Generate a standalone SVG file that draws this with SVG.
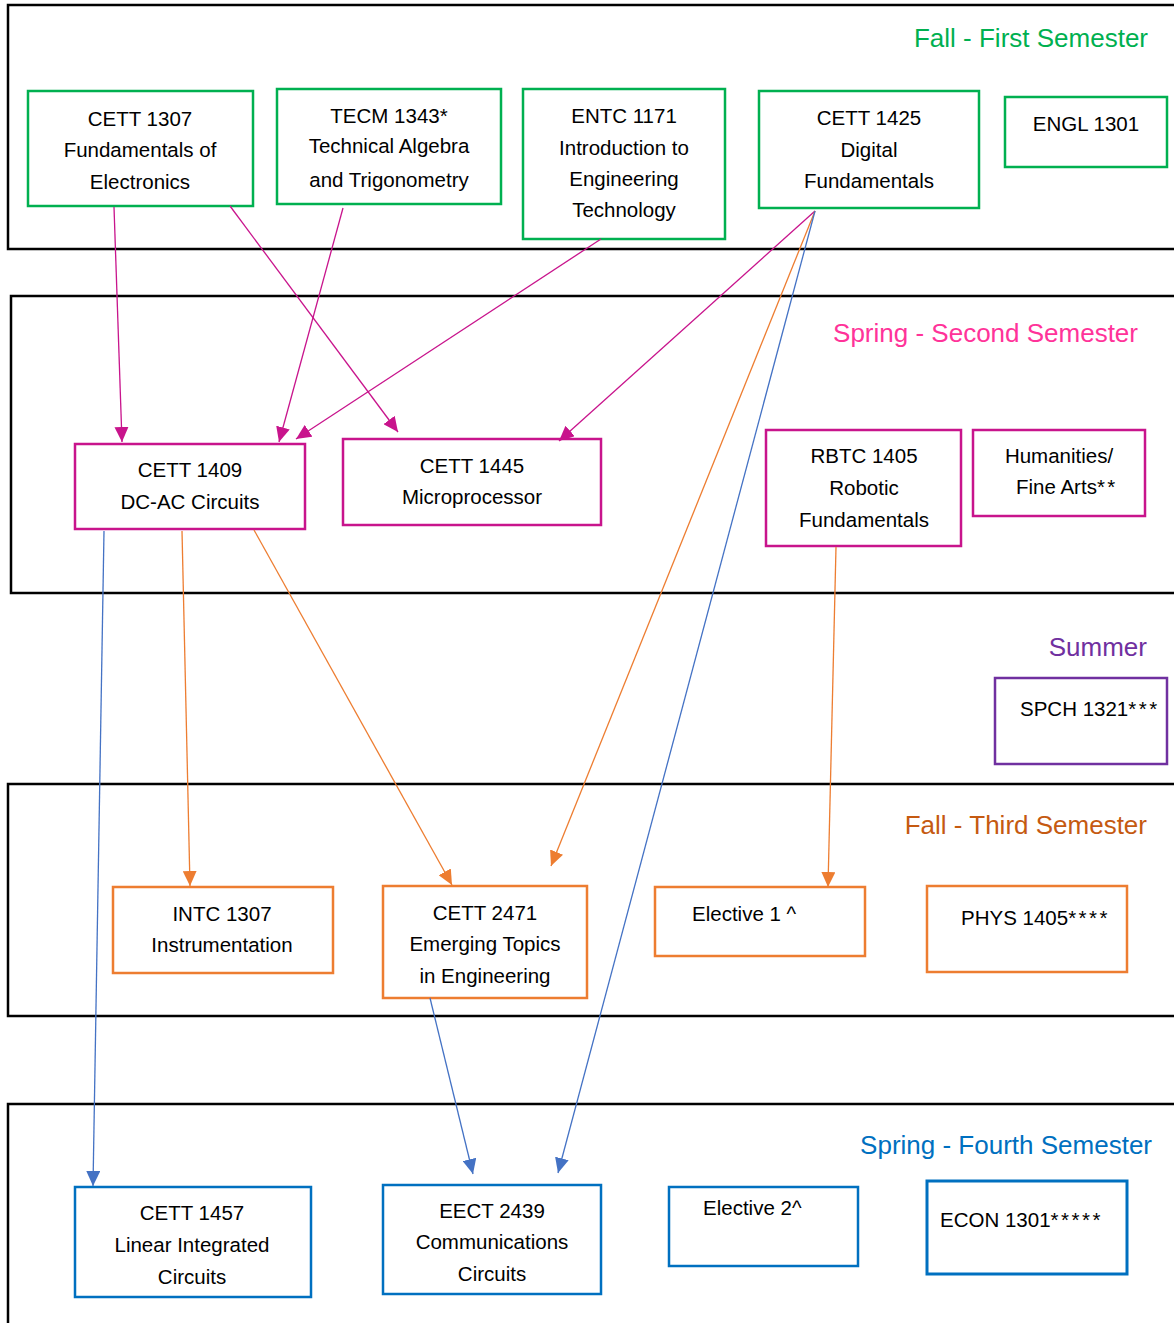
<svg xmlns="http://www.w3.org/2000/svg" width="1174" height="1323" viewBox="0 0 1174 1323">
<style>
.sem{fill:none;stroke:#000;stroke-width:2.5}
.title{font-family:"Liberation Sans",Arial,sans-serif;font-size:26px;text-anchor:end}
.n rect{fill:#fff;stroke-width:2.5}
.n text{font-family:"Liberation Sans",Arial,sans-serif;font-size:20.5px;fill:#000;text-anchor:middle}
.n text.l{text-anchor:start}
.st{letter-spacing:2.5px}
.g rect{stroke:#00B050}
.p rect{stroke:#C8148C}
.v rect{stroke:#7030A0}
.o rect{stroke:#ED7D31}
.b rect{stroke:#0070C0}
.c line{stroke-width:1.3;fill:none}
.cm{stroke:#C8148C}
.co{stroke:#ED7D31}
.cb{stroke:#4472C4}
</style>
<defs>
<marker id="am" markerUnits="userSpaceOnUse" markerWidth="15" markerHeight="14" refX="15" refY="7" orient="auto"><path d="M0,0 L15,7 L0,14 z" fill="#C8148C"/></marker>
<marker id="ao" markerUnits="userSpaceOnUse" markerWidth="15" markerHeight="14" refX="15" refY="7" orient="auto"><path d="M0,0 L15,7 L0,14 z" fill="#ED7D31"/></marker>
<marker id="ab" markerUnits="userSpaceOnUse" markerWidth="15" markerHeight="14" refX="15" refY="7" orient="auto"><path d="M0,0 L15,7 L0,14 z" fill="#4472C4"/></marker>
</defs>
<rect width="1174" height="1323" fill="#fff"/>

<g id="semesters">
<rect class="sem" x="8" y="5" width="1180" height="244"/>
<rect class="sem" x="11" y="296" width="1180" height="297"/>
<rect class="sem" x="8" y="784" width="1180" height="232"/>
<rect class="sem" x="8" y="1104" width="1180" height="240"/>
<text class="title" x="1148" y="47" fill="#00B050">Fall - First Semester</text>
<text class="title" x="1138" y="342" fill="#FF3399">Spring - Second Semester</text>
<text class="title" x="1147" y="656" fill="#7030A0">Summer</text>
<text class="title" x="1147" y="834" fill="#C55A11">Fall - Third Semester</text>
<text class="title" x="1152" y="1154" fill="#0070C0">Spring - Fourth Semester</text>
</g>

<g id="cett1307" class="n g"><rect x="28" y="91" width="225" height="115"/>
<text x="140" y="126">CETT 1307</text><text x="140" y="157">Fundamentals of</text><text x="140" y="189">Electronics</text></g>
<g id="tecm1343" class="n g"><rect x="277" y="89" width="224" height="115"/>
<text x="389" y="123">TECM 1343*</text><text x="389" y="153">Technical Algebra</text><text x="389" y="187">and Trigonometry</text></g>
<g id="entc1171" class="n g"><rect x="523" y="89" width="202" height="150"/>
<text x="624" y="123">ENTC 1171</text><text x="624" y="155">Introduction to</text><text x="624" y="186">Engineering</text><text x="624" y="217">Technology</text></g>
<g id="cett1425" class="n g"><rect x="759" y="91" width="220" height="117"/>
<text x="869" y="125">CETT 1425</text><text x="869" y="157">Digital</text><text x="869" y="188">Fundamentals</text></g>
<g id="engl1301" class="n g"><rect x="1005" y="97" width="162" height="70"/>
<text x="1086" y="131">ENGL 1301</text></g>

<g id="cett1409" class="n p"><rect x="75" y="444" width="230" height="85"/>
<text x="190" y="477">CETT 1409</text><text x="190" y="509">DC-AC Circuits</text></g>
<g id="cett1445" class="n p"><rect x="343" y="439" width="258" height="86"/>
<text x="472" y="473">CETT 1445</text><text x="472" y="504">Microprocessor</text></g>
<g id="rbtc1405" class="n p"><rect x="766" y="430" width="195" height="116"/>
<text x="864" y="463">RBTC 1405</text><text x="864" y="495">Robotic</text><text x="864" y="527">Fundamentals</text></g>
<g id="humanities" class="n p"><rect x="973" y="430" width="172" height="86"/>
<text x="1059" y="463">Humanities/</text><text class="l" x="1016" y="494">Fine Arts<tspan class="st">**</tspan></text></g>

<g id="spch1321" class="n v"><rect x="995" y="678" width="172" height="86"/>
<text class="l" x="1020" y="716">SPCH 1321<tspan class="st">***</tspan></text></g>

<g id="intc1307" class="n o"><rect x="113" y="887" width="220" height="86"/>
<text x="222" y="921">INTC 1307</text><text x="222" y="952">Instrumentation</text></g>
<g id="cett2471" class="n o"><rect x="383" y="886" width="204" height="112"/>
<text x="485" y="920">CETT 2471</text><text x="485" y="951">Emerging Topics</text><text x="485" y="983">in Engineering</text></g>
<g id="elective1" class="n o"><rect x="655" y="887" width="210" height="69"/>
<text class="l" x="692" y="921">Elective 1 ^</text></g>
<g id="phys1405" class="n o"><rect x="927" y="886" width="200" height="86"/>
<text class="l" x="961" y="925">PHYS 1405<tspan class="st">****</tspan></text></g>

<g id="cett1457" class="n b"><rect x="75" y="1187" width="236" height="110"/>
<text x="192" y="1220">CETT 1457</text><text x="192" y="1252">Linear Integrated</text><text x="192" y="1284">Circuits</text></g>
<g id="eect2439" class="n b"><rect x="383" y="1185" width="218" height="109"/>
<text x="492" y="1218">EECT 2439</text><text x="492" y="1249">Communications</text><text x="492" y="1281">Circuits</text></g>
<g id="elective2" class="n b"><rect x="669" y="1187" width="189" height="79"/>
<text class="l" x="703" y="1215">Elective 2^</text></g>
<g id="econ1301" class="n b"><rect x="927" y="1181" width="200" height="93" style="stroke-width:3"/>
<text class="l" x="940" y="1227">ECON 1301<tspan class="st">*****</tspan></text></g>

<g id="connectors" class="c">
<line class="cm" x1="114" y1="207" x2="122" y2="442" marker-end="url(#am)"/>
<line class="cm" x1="230" y1="206" x2="398" y2="432" marker-end="url(#am)"/>
<line class="cm" x1="343" y1="208" x2="279" y2="442" marker-end="url(#am)"/>
<line class="cm" x1="601" y1="239" x2="296" y2="439" marker-end="url(#am)"/>
<line class="cm" x1="815" y1="211" x2="559" y2="441" marker-end="url(#am)"/>
<line class="co" x1="815" y1="211" x2="551" y2="866" marker-end="url(#ao)"/>
<line class="co" x1="182" y1="531" x2="190" y2="886" marker-end="url(#ao)"/>
<line class="co" x1="254" y1="530" x2="452" y2="885" marker-end="url(#ao)"/>
<line class="co" x1="836" y1="547" x2="828" y2="887" marker-end="url(#ao)"/>
<line class="cb" x1="104" y1="531" x2="93" y2="1186" marker-end="url(#ab)"/>
<line class="cb" x1="815" y1="211" x2="558" y2="1173" marker-end="url(#ab)"/>
<line class="cb" x1="430" y1="998" x2="473" y2="1174" marker-end="url(#ab)"/>
</g>
</svg>
